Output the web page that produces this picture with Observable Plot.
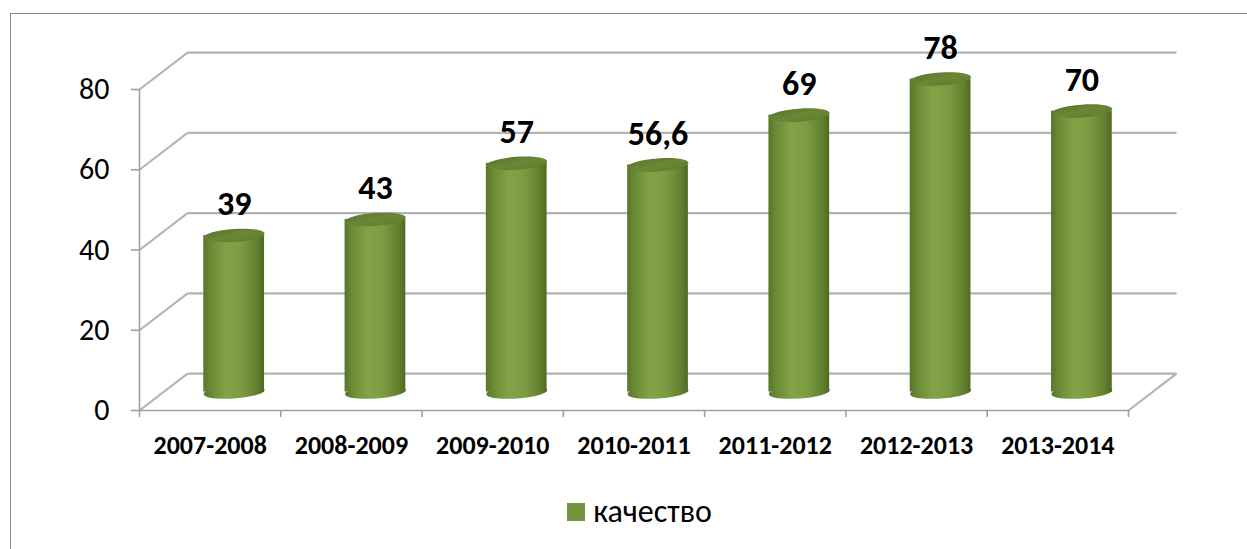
<!DOCTYPE html>
<html><head><meta charset="utf-8">
<script src="https://cdn.jsdelivr.net/npm/d3@7"></script>
<script src="https://cdn.jsdelivr.net/npm/@observablehq/plot@0.6"></script>
<style>
html,body{margin:0;padding:0;background:#fff;overflow:hidden;width:1247px;height:549px;}
#frame{position:absolute;left:10px;top:13px;width:1300px;height:600px;border:1px solid #8a8a8a;box-sizing:border-box;}
#chart{position:absolute;left:0;top:0;}
#legend{position:absolute;left:0;top:492px;width:1247px;padding-left:64px;box-sizing:border-box;display:flex;justify-content:center;}
#legend svg{margin-right:8px !important;}
</style></head><body>
<div id="frame"></div><div id="chart"></div><div id="legend"></div>
<script>
const categories = ["2007-2008","2008-2009","2009-2010","2010-2011","2011-2012","2012-2013","2013-2014"];
const values = [39, 43, 57, 56.6, 69, 78, 70];
const yTicks = [0, 20, 40, 60, 80];
const seriesName = "качество";
const seriesColor = "#77933c";

const FONT = "Carlito, Lato, 'Open Sans', sans-serif";
const DX = 0.34, DY = 9.2;      // depth of the 3-D box in scale units
const HALF = 0.215;             // half cylinder width in category units
const BASE = DY / 2;            // cylinders stand in the middle of the floor
const rows = categories.map((c, i) => ({c, v: values[i], i, cx: i + 0.5 + DX / 2}));
const bounds = d3.range(categories.length + 1);

function ellipseSymbol(rx, ry, angle) {
  return {draw(ctx) {
    const k = 0.5523, co = Math.cos(angle), si = Math.sin(angle);
    const P = (x, y) => [x * co - y * si, x * si + y * co];
    ctx.moveTo(...P(rx, 0));
    const segs = [
      [[rx, k*ry],[k*rx, ry],[0, ry]],
      [[-k*rx, ry],[-rx, k*ry],[-rx, 0]],
      [[-rx, -k*ry],[-k*rx, -ry],[0, -ry]],
      [[k*rx, -ry],[rx, -k*ry],[rx, 0]]
    ];
    for (const [a,b,c] of segs) ctx.bezierCurveTo(...P(...a), ...P(...b), ...P(...c));
    ctx.closePath();
  }};
}
const ell = ellipseSymbol(30.5, 6.5, -0.07);
const gridStroke = "#b2b2b2";

const svg = Plot.plot({
  width: 1247, height: 470,
  marginLeft: 139, marginRight: 119, marginTop: 89, marginBottom: 60,
  x: {type: "linear", domain: [0, categories.length], axis: null, label: null},
  y: {domain: [0, 80], axis: null, label: null},
  style: {fontFamily: FONT, background: "transparent", overflow: "visible", color: "#000"},
  marks: [
    Plot.link(yTicks, {x1: DX, x2: categories.length + DX, y1: d => d + DY, y2: d => d + DY, stroke: gridStroke, strokeWidth: 2.2}),
    Plot.link(yTicks, {x1: 0, x2: DX, y1: d => d, y2: d => d + DY, stroke: gridStroke, strokeWidth: 2}),
    Plot.link([0], {x1: categories.length, x2: categories.length + DX, y1: 0, y2: DY, stroke: gridStroke, strokeWidth: 2}),
    Plot.ruleY([0], {stroke: "#a0a0a0", strokeWidth: 1.6}),
    Plot.ruleX([0], {stroke: "#a0a0a0", strokeWidth: 1.6}),
    Plot.axisY({ticks: yTicks, label: null, tickSize: 8, tickPadding: 22, fontSize: 30, stroke: "#a0a0a0", strokeWidth: 1.6, fill: "#000"}),
    Plot.axisX({ticks: bounds, label: null, tickSize: 7, tickFormat: () => "", stroke: "#a0a0a0", strokeWidth: 1.6}),
    Plot.text(rows, {x: d => d.i + 0.5, y: 0, dy: 35, text: "c", fontSize: 26, fontWeight: "bold", fill: "#000"}),
    Plot.dot(rows, {x: "cx", y: BASE, symbol: ell, r: 3, fill: "url(#cylBody)"}),
    Plot.rect(rows, {x1: d => d.cx - HALF, x2: d => d.cx + HALF, y1: BASE, y2: d => d.v + BASE, fill: "url(#cylBody)"}),
    Plot.dot(rows, {x: "cx", y: d => d.v + BASE, symbol: ell, r: 3, fill: "url(#cylTop)"}),
    Plot.text(rows, {x: "cx", y: d => d.v + BASE, dy: -31, text: d => String(d.v).replace(".", ","), fontSize: 34, fontWeight: "bold", fill: "#000"})
  ]
});

d3.select(svg).insert("defs", ":first-child").html(`
  <linearGradient id="cylBody" x1="0" x2="1" y1="0" y2="0">
    <stop offset="0" stop-color="#58762a"/>
    <stop offset="0.12" stop-color="#6b8a35"/>
    <stop offset="0.38" stop-color="#83a347"/>
    <stop offset="0.62" stop-color="#7d9c42"/>
    <stop offset="0.88" stop-color="#63812f"/>
    <stop offset="1" stop-color="#4e6a22"/>
  </linearGradient>
  <linearGradient id="cylTop" x1="0" x2="1" y1="0" y2="1">
    <stop offset="0" stop-color="#56722a"/>
    <stop offset="0.5" stop-color="#6a8735"/>
    <stop offset="1" stop-color="#5e7a2d"/>
  </linearGradient>`);
document.getElementById("chart").appendChild(svg);

const leg = Plot.legend({
  color: {type: "ordinal", domain: [seriesName], range: [seriesColor]},
  swatchSize: 18, className: "leg",
  style: {fontSize: "32px", fontFamily: FONT, color: "#000", marginBottom: "0"}
});
document.getElementById("legend").appendChild(leg);
</script>
</body></html>
